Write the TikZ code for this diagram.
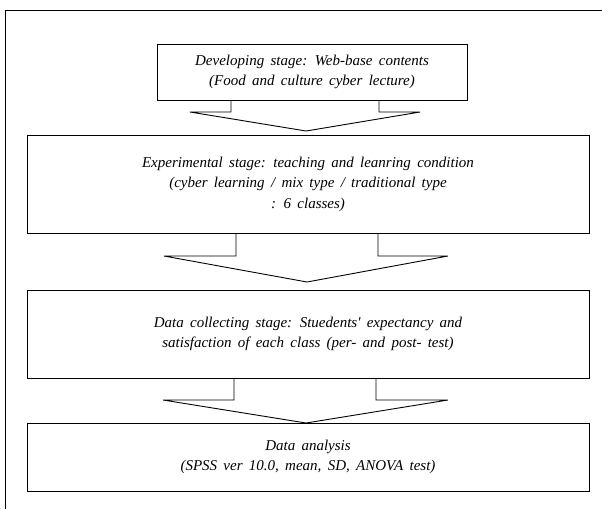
\documentclass[tikz,border=0pt]{standalone}
\usepackage{fontspec}
\setmainfont{Liberation Serif}[Ligatures=TeXOff]
\usetikzlibrary{calc}
\newcommand{\stagefont}{\itshape\fontsize{15}{20.5}\selectfont\spaceskip=0.42em plus 0.1em\relax}
\begin{document}
\begin{tikzpicture}[x=1pt,y=-1pt,
  stagebox/.style={draw,line width=0.9pt,inner sep=0pt,align=center,
    font=\stagefont},
  fatarrow/.style={draw,line width=0.9pt,line join=miter}]
\useasboundingbox (0,0) rectangle (602,509);
% outer frame (partly visible)
\draw[line width=0.8pt] (602,10) -- (5,10) -- (5,509);
\node[stagebox,minimum width=310pt,minimum height=56pt] (b1) at (312,72)
  {Developing stage: Web-base contents\\(Food and culture cyber lecture)};
\node[stagebox,minimum width=562pt,minimum height=98pt] (b2) at (308,184)
  {Experimental stage: teaching and leanring condition\\(cyber learning / mix type / traditional type\\: 6 classes)};
\node[stagebox,minimum width=562pt,minimum height=88pt] (b3) at (308,334)
  {Data collecting stage: Stuedents' expectancy and\\satisfaction of each class (per- and post- test)};
\node[stagebox,minimum width=562pt,minimum height=68pt] (b4) at (308,457)
  {Data analysis\\(SPSS ver 10.0, mean, SD, ANOVA test)};
% block arrows
\coordinate (t1) at (306,131);
\coordinate (t2) at (307,282);
\coordinate (t3) at (306,423);
\draw[fatarrow] (231,0 |- b1.south) -- (231,112) -- (190,112) -- (t1)
  -- (420,112) -- (379,112) -- (379,0 |- b1.south);
\draw[fatarrow] (236,0 |- b2.south) -- (236,256) -- (164,256) -- (t2)
  -- (448,256) -- (378,256) -- (378,0 |- b2.south);
\draw[fatarrow] (234,0 |- b3.south) -- (234,400) -- (163,400) -- (t3)
  -- (448,400) -- (376,400) -- (376,0 |- b3.south);
\end{tikzpicture}
\end{document}
